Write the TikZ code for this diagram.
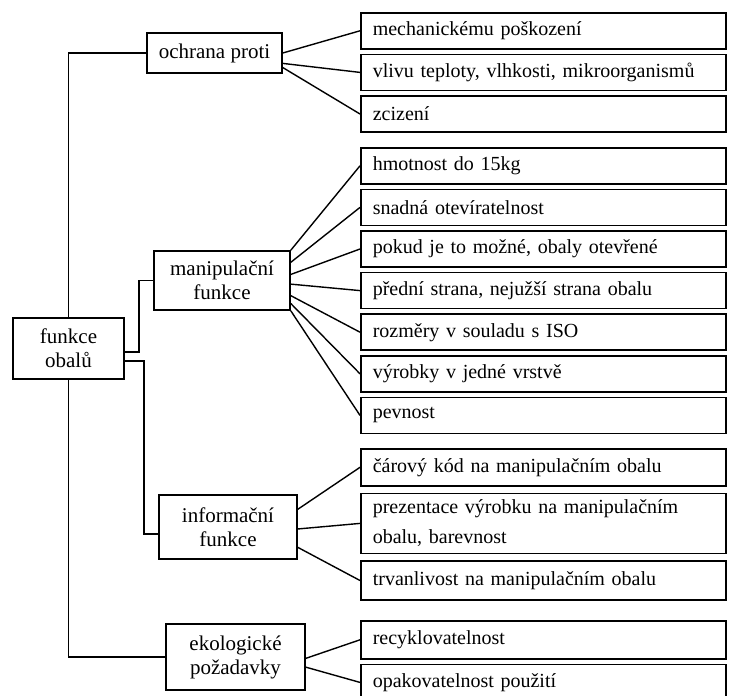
\documentclass[tikz,border=0pt]{standalone}
\usepackage{fontspec}
\setmainfont{Liberation Serif}
\usepackage{tikz}
\usetikzlibrary{positioning,calc}

\begin{document}
\begin{tikzpicture}[x=0.5pt, y=-0.5pt, line width=0.7pt, node distance=2pt]
\tikzstyle{group}=[draw, line width=0.8pt, align=center, inner sep=1pt, font=\fontsize{10.5}{12}\selectfont]
\tikzstyle{leaf}=[draw, line width=0.8pt, align=left, text width=170.5pt, inner xsep=6pt, inner ysep=2pt, minimum height=18pt, font=\fontsize{10}{15}\selectfont]
\useasboundingbox (0,0) rectangle (731,695);
% main box and the four groups
\node[group, minimum width=55.5pt, minimum height=30.5pt] (obaly) at (68.5,348.5) {funkce\\obalů};
\node[group, minimum width=67.5pt, minimum height=20pt] (ochrana) at (214.5,53) {ochrana proti};
\node[group, minimum width=68pt, minimum height=29.5pt] (manip) at (222,280.5) {manipulační\\funkce};
\node[group, minimum width=69pt, minimum height=32pt] (info) at (228,527) {informační\\funkce};
\node[group, minimum width=69.5pt, minimum height=33pt] (eko) at (235.5,657) {ekologické\\požadavky};
% leaves
\node[leaf, anchor=north west] (mech) at (360,12) {mechanickému poškození};
\node[leaf, below=of mech] (vliv) {vlivu teploty, vlhkosti, mikroorganismů};
\node[leaf, below=of vliv] (zciz) {zcizení};
\node[leaf, anchor=north west] (hmot) at (360,147) {hmotnost do 15kg};
\node[leaf, below=of hmot] (snad) {snadná otevíratelnost};
\node[leaf, below=of snad] (otev) {pokud je to možné, obaly otevřené};
\node[leaf, below=of otev] (pred) {přední strana, nejužší strana obalu};
\node[leaf, below=of pred] (rozm) {rozměry v souladu s ISO};
\node[leaf, below=of rozm] (vrst) {výrobky v jedné vrstvě};
\node[leaf, below=of vrst] (pevn) {pevnost};
\node[leaf, anchor=north west, minimum height=18.5pt] (kod) at (360,448) {čárový kód na manipulačním obalu};
\node[leaf, below=3pt of kod, minimum height=30pt] (prez) {prezentace výrobku na manipulačním\\obalu, barevnost};
\node[leaf, below=3pt of prez, minimum height=19.5pt] (trvan) {trvanlivost na manipulačním obalu};
\node[leaf, anchor=north west, minimum height=19pt] (recyk) at (360,620) {recyklovatelnost};
\node[leaf, below=of recyk] (opak) {opakovatelnost použití};
% tree lines
\draw (obaly.north) |- (ochrana.west);
\draw (obaly.south) |- (eko.west);
\draw ($(obaly.east)+(0,3.5)$) -- ++(14,0) |- (manip.west);
\draw ($(obaly.east)+(0,12.5)$) -- ++(19,0) |- ($(info.west)+(0,7)$);
\foreach \leaf/\t in {mech/0.5, vliv/0.75, zciz/0.85}
  \draw ($(ochrana.north east)!\t!(ochrana.south east)$) -- (\leaf.west);
\foreach \leaf/\t in {hmot/0, snad/0.2, otev/0.4, pred/0.56, rozm/0.75, vrst/0.88, pevn/1}
  \draw ($(manip.north east)!\t!(manip.south east)$) -- (\leaf.west);
\foreach \leaf/\t in {kod/0.23, prez/0.53, trvan/0.81}
  \draw ($(info.north east)!\t!(info.south east)$) -- (\leaf.west);
\foreach \leaf/\t in {recyk/0.52, opak/0.65}
  \draw ($(eko.north east)!\t!(eko.south east)$) -- (\leaf.west);
\end{tikzpicture}
\end{document}
